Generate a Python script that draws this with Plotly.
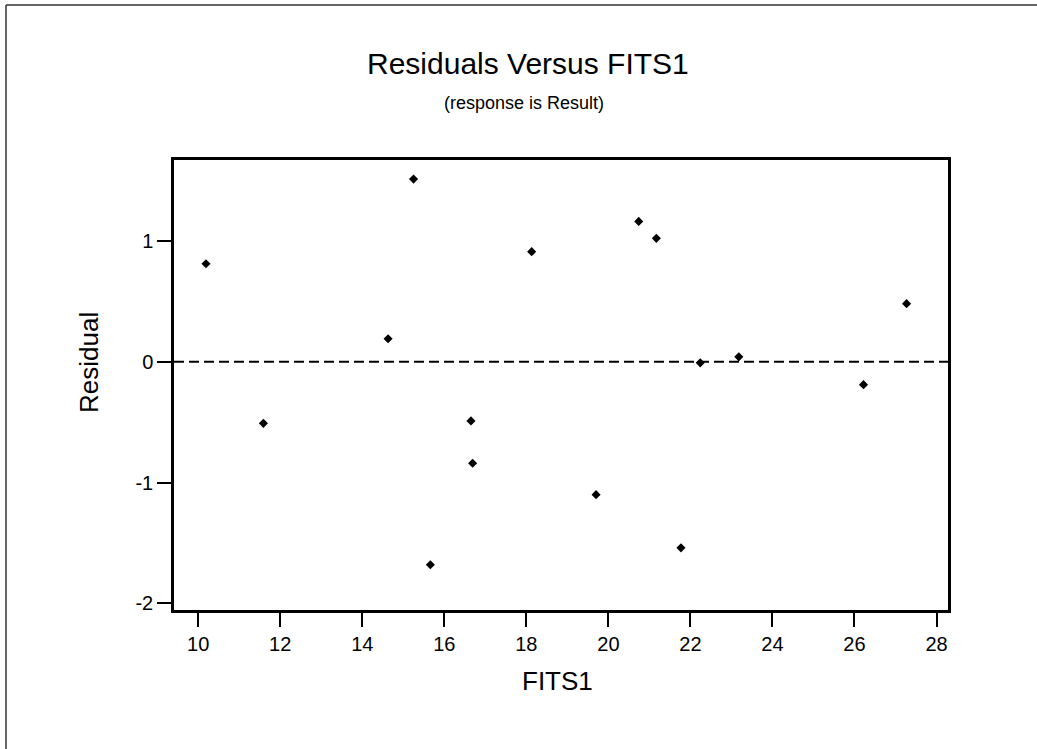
import plotly.graph_objects as go

# Data
fits1 = [10.19, 11.59, 14.63, 15.25, 15.66, 16.65, 16.69, 18.13,
         19.70, 20.74, 21.17, 21.77, 22.24, 23.18, 26.22, 27.27]
residual = [0.81, -0.51, 0.19, 1.51, -1.68, -0.49, -0.84, 0.91,
            -1.10, 1.16, 1.02, -1.54, -0.01, 0.04, -0.19, 0.48]
x_ticks = [10, 12, 14, 16, 18, 20, 22, 24, 26, 28]
y_ticks = [-2, -1, 0, 1]
x_range = [9.41, 28.28]
y_range = [-2.054, 1.668]

W, H = 1037, 749
L, R, T, B = 174, 89, 160, 139
pw, ph = W - L - R, H - T - B

def px(xp):
    return (xp - L) / pw

def py(yp):
    return (H - B - yp) / ph

FONT = "Liberation Sans, Arial, sans-serif"

fig = go.Figure()
fig.add_trace(go.Scatter(
    x=fits1, y=residual, mode="markers",
    marker=dict(symbol="diamond", size=7, color="black"),
    showlegend=False, hoverinfo="x+y"))

fig.add_shape(type="line", xref="x", yref="y", x0=x_range[0], x1=x_range[1],
              y0=0, y1=0, line=dict(color="black", width=2, dash="10px,5px"))

# page border (left and top)
fig.add_shape(type="line", xref="paper", yref="paper",
              x0=px(6), x1=px(6), y0=py(5), y1=py(749),
              line=dict(color="#333333", width=1.5))
fig.add_shape(type="line", xref="paper", yref="paper",
              x0=px(6), x1=px(1037), y0=py(5), y1=py(5),
              line=dict(color="#333333", width=1.5))

fig.add_annotation(text="Residuals Versus FITS1", xref="paper", yref="paper",
                   x=px(528), y=py(64), showarrow=False,
                   xanchor="center", yanchor="middle",
                   font=dict(family=FONT, size=30, color="black"))
fig.add_annotation(text="(response is Result)", xref="paper", yref="paper",
                   x=px(524), y=py(103), showarrow=False,
                   xanchor="center", yanchor="middle",
                   font=dict(family=FONT, size=18, color="black"))
fig.add_annotation(text="FITS1", xref="paper", yref="paper",
                   x=px(557), y=py(681), showarrow=False,
                   xanchor="center", yanchor="middle",
                   font=dict(family=FONT, size=26, color="black"))
fig.add_annotation(text="Residual", xref="paper", yref="paper",
                   x=px(89), y=py(363), showarrow=False, textangle=-90,
                   xanchor="center", yanchor="middle",
                   font=dict(family=FONT, size=26, color="black"))

axis_common = dict(showline=True, linecolor="black", linewidth=2.5, mirror=True,
                   ticks="outside", ticklen=14, tickwidth=2, tickcolor="black",
                   showgrid=False, zeroline=False,
                   tickfont=dict(family=FONT, size=20, color="black"))

fig.update_xaxes(range=x_range, tickvals=x_ticks, ticktext=[str(v) for v in x_ticks],
                 **axis_common)
fig.update_yaxes(range=y_range, tickvals=y_ticks, ticktext=[str(v) for v in y_ticks],
                 **axis_common)

fig.update_layout(width=W, height=H, margin=dict(l=L, r=R, t=T, b=B),
                  paper_bgcolor="white", plot_bgcolor="white")

fig.write_html("out.html")
